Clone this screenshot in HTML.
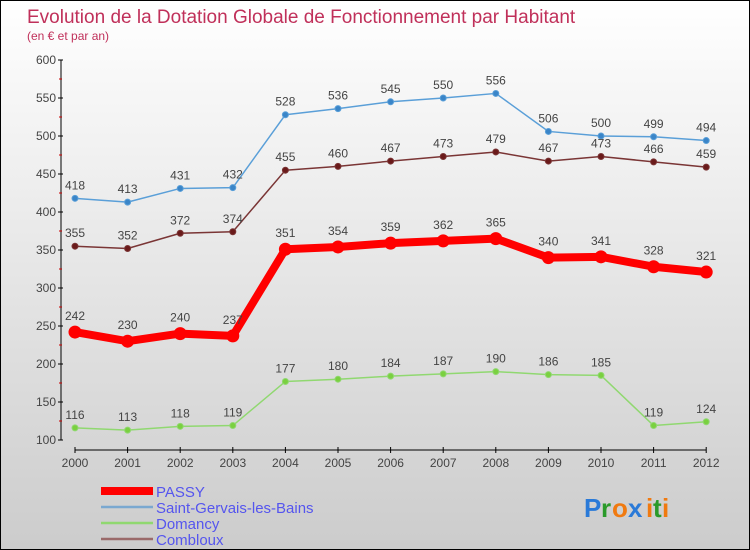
<!DOCTYPE html>
<html><head><meta charset="utf-8"><style>
body{margin:0}
#c{width:748px;height:548px;border:1px solid #000;background:linear-gradient(#fff,#ccc);position:relative;font-family:"Liberation Sans",sans-serif;overflow:hidden}
svg{position:absolute;left:0;top:0}
</style></head><body>
<div id="c">
<svg id="s" width="748" height="548">
<text x="26" y="22" font-size="19" fill="#c0305a">Evolution de la Dotation Globale de Fonctionnement par Habitant</text>
<text x="26" y="39" font-size="12" fill="#c0305a">(en € et par an)</text>
</svg>
</div>
<script>
const years=[2000,2001,2002,2003,2004,2005,2006,2007,2008,2009,2010,2011,2012];
const passy=[242,230,240,237,351,354,359,362,365,340,341,328,321];
const stg=[418,413,431,432,528,536,545,550,556,506,500,499,494];
const domancy=[116,113,118,119,177,180,184,187,190,186,185,119,124];
const combloux=[355,352,372,374,455,460,467,473,479,467,473,466,459];
const yTicks=[100,150,200,250,300,350,400,450,500,550,600];
const svg=document.getElementById('s');const NS='http://www.w3.org/2000/svg';
const X=i=>74+i*52.6, Y=v=>439-(v-100)*0.76;
function el(t,a,p){const e=document.createElementNS(NS,t);for(const k in a)e.setAttribute(k,a[k]);(p||svg).appendChild(e);return e;}
let ax=el('line',{x1:60,y1:Y(600),x2:60,y2:Y(100),stroke:'#000'});

let bx=el('line',{x1:X(0),y1:449,x2:X(12),y2:449,stroke:'#000'});

yTicks.forEach((v,i)=>{el('line',{x1:57,y1:Y(v),x2:62,y2:Y(v),stroke:'#000'});
 if(i<yTicks.length-1)el('line',{x1:58,y1:Y(v+25),x2:61,y2:Y(v+25),stroke:'#c00'});
 const t=el('text',{x:55,y:Y(v)+4,'font-size':12,fill:'#444','text-anchor':'end'});t.textContent=v;
 });
years.forEach((y,i)=>{el('line',{x1:X(i),y1:446,x2:X(i),y2:452,stroke:'#000'});
 const t=el('text',{x:X(i),y:466,'font-size':12,fill:'#444','text-anchor':'middle'});t.textContent=y;
 });
function series(d,col,w,r,fill,name){
 const g=el('g',{});
 el('polyline',{points:d.map((v,i)=>X(i)+','+Y(v)).join(' '),fill:'none',stroke:col,'stroke-width':w,'stroke-linejoin':'round'},g);
 d.forEach((v,i)=>{const c=el('circle',{cx:X(i),cy:Y(v),r:r,fill:fill,stroke:col,'stroke-width':1},g);
  
  const t=el('text',{x:X(i),y:Y(v)-(r+6),'font-size':12,fill:'#444','text-anchor':'middle'},g);t.textContent=v;
  });
}
series(stg,'#5a9fd8',1.5,3,'#3a85c8','saint-gervais');
series(combloux,'#7a3535',1.5,3,'#6a1a1a','combloux');
series(domancy,'#90d870',1.5,3,'#7ad040','domancy');
series(passy,'#f00',8,6,'#f00','passy');
const leg=[['PASSY','#f00',8],['Saint-Gervais-les-Bains','#7aa8d0',2.5],['Domancy','#90d870',2.5],['Combloux','#9a6a6a',2.5]];
leg.forEach((l,i)=>{const y=490+i*16;
 const g=el('g',{});
 el('line',{x1:100,y1:y,x2:152,y2:y,stroke:l[1],'stroke-width':l[2]},g);
 const t=el('text',{x:155,y:y+6,'font-size':15,fill:'#5555ee'},g);t.textContent=l[0];});
const logo=el('g',{});
[['P','#2a7ad8'],['r','#2a9a2a'],['o','#f07a10'],['x','#2a7ad8'],['i','#f07a10'],['t','#2a9a2a'],['i','#f07a10']].forEach((c,i)=>{
 const t=el('text',{x:583+[0,17,28,44,62,69,78][i],y:516,'font-size':26,'font-weight':'bold',fill:c[1]},logo);t.textContent=c[0];});
</script>
</body></html>
